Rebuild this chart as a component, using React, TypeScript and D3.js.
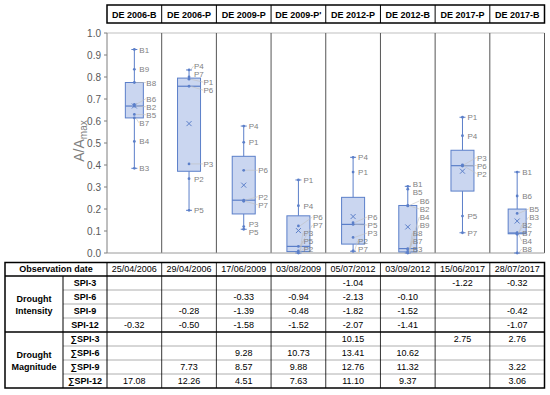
import * as d3 from 'd3'

// box plot categories (header row)
const categories = ['DE 2006-B', 'DE 2006-P', 'DE 2009-P', "DE 2009-P'", 'DE 2012-P', 'DE 2012-B', 'DE 2017-P', 'DE 2017-B']

// A/Amax per point, in label order (B1..B9 / P1..P7)
const de2006B = [0.925, 0.668, 0.385, 0.507, 0.63, 0.675, 0.614, 0.775, 0.835]
const de2006P = [0.79, 0.338, 0.405, 0.832, 0.194, 0.758, 0.8]
const de2009P = [0.503, 0.24, 0.12, 0.577, 0.108, 0.376, 0.235]
const de2009Pp = [0.332, 0.0, 0.01, 0.215, 0.003, 0.123, 0.03]
const de2012P = [0.368, 0.01, 0.071, 0.435, 0.13, 0.138, 0.008]
const de2012B = [0.303, 0.214, 0.0, 0.02, 0.29, 0.216, 0.002, 0.005, 0.015]
const de2017P = [0.617, 0.395, 0.401, 0.533, 0.168, 0.397, 0.092]
const de2017B = [0.368, 0.09, 0.092, 0.085, 0.18, 0.259, 0.088, 0.0]
const seriesValues = [de2006B, de2006P, de2009P, de2009Pp, de2012P, de2012B, de2017P, de2017B]

const yTicks = [0, 0.1, 0.2, 0.3, 0.4, 0.5, 0.6, 0.7, 0.8, 0.9, 1.0]

// table under the chart
const obsDates = ['25/04/2006', '29/04/2006', '17/06/2009', '03/08/2009', '05/07/2012', '03/09/2012', '15/06/2017', '28/07/2017']
const intensityRows = ['SPI-3', 'SPI-6', 'SPI-9', 'SPI-12']
const magnitudeRows = ['∑SPI-3', '∑SPI-6', '∑SPI-9', '∑SPI-12']
const spi3 = [null, null, null, null, '-1.04', null, '-1.22', '-0.32']
const spi6 = [null, null, '-0.33', '-0.94', '-2.13', '-0.10', null, null]
const spi9 = [null, '-0.28', '-1.39', '-0.48', '-1.82', '-1.52', null, '-0.42']
const spi12 = ['-0.32', '-0.50', '-1.58', '-1.52', '-2.07', '-1.41', null, '-1.07']
const sumSpi3 = [null, null, null, null, '10.15', null, '2.75', '2.76']
const sumSpi6 = [null, null, '9.28', '10.73', '13.41', '10.62', null, null]
const sumSpi9 = [null, '7.73', '8.57', '9.88', '12.76', '11.32', null, '3.22']
const sumSpi12 = ['17.08', '12.26', '4.51', '7.63', '11.10', '9.37', null, '3.06']
const tableRows = [spi3, spi6, spi9, spi12, sumSpi3, sumSpi6, sumSpi9, sumSpi12]

const FONT = 'Liberation Sans, Arial, sans-serif'
const BLUE = '#5b7fc9'

// push overlapping label positions apart, clusters stay centred on their points
function spread(targets: number[], gap: number, hi: number) {
  const order = d3.range(targets.length).sort((a, b) => targets[a] - targets[b])
  let groups: { idx: number[]; top: number }[] = []
  for (const i of order) {
    groups.push({ idx: [i], top: targets[i] })
    while (groups.length > 1) {
      const b = groups[groups.length - 1]
      const a = groups[groups.length - 2]
      if (a.top + a.idx.length * gap <= b.top) break
      const idx = a.idx.concat(b.idx)
      let top = d3.mean(idx, (k, j) => targets[k] - j * gap) as number
      top = Math.min(top, hi - (idx.length - 1) * gap)
      groups = groups.slice(0, -2)
      groups.push({ idx, top })
    }
  }
  const out = new Array(targets.length)
  groups.forEach(g => g.idx.forEach((k, j) => (out[k] = g.top + j * gap)))
  return out as number[]
}

export default function App() {
  const width = 550
  const height = 395
  const plotTop = 33
  const plotBottom = 253
  const left = 107
  const right = 544.5

  const x = d3.scaleBand(categories, [left, right])
  const y = d3.scaleLinear([0, 1], [plotBottom, plotTop])
  const bw = x.bandwidth()

  const tTop = 262.5
  const headH = 13.5
  const rowH = 14
  const rowY = (i: number) => tTop + headH + i * rowH
  const tBottom = rowY(8)

  return (
    <svg width={width} height={height} style={{ position: 'absolute', left: 0, top: 0, background: '#fff' }} fontFamily={FONT}>
      {/* header row */}
      <g>
        {categories.map(c => (
          <text key={c} x={(x(c) as number) + bw / 2} y={17.5} textAnchor="middle" fontSize={9} fontWeight="bold">{c}</text>
        ))}
        {categories.slice(1).map(c => (
          <line key={c} x1={x(c)} x2={x(c)} y1={5} y2={23} stroke="#000" />
        ))}
        <rect x={left} y={5} width={right - left} height={18} fill="none" stroke="#000" strokeWidth={1.5} />
      </g>

      {/* plot frame */}
      <line x1={left} x2={right} y1={plotTop} y2={plotTop} stroke="#bfbfbf" />
      {categories.slice(1).map(c => (
        <line key={c} x1={x(c)} x2={x(c)} y1={plotTop} y2={plotBottom} stroke="#555" />
      ))}
      <line x1={right} x2={right} y1={plotTop} y2={plotBottom} stroke="#555" />
      <line x1={left} x2={right} y1={plotBottom} y2={plotBottom} stroke="#9a9a9a" />
      <line x1={left} x2={left} y1={plotTop} y2={plotBottom} stroke="#7f7f7f" />
      {yTicks.map(t => (
        <g key={t}>
          <line x1={left - 3} x2={left} y1={y(t)} y2={y(t)} stroke="#7f7f7f" />
          <text x={left - 6} y={y(t) + 3.5} textAnchor="end" fontSize={10} fill="#595959">{d3.format('.1f')(t)}</text>
        </g>
      ))}
      <text transform="translate(84,141) rotate(-90)" textAnchor="middle" fontSize={14} fill="#7f7f7f">
        A/A<tspan fontSize={10} dy={3}>max</tspan>
      </text>

      {/* boxes */}
      {categories.map((c, ci) => {
        const vals = seriesValues[ci]
        const prefix = c.endsWith('B') ? 'B' : 'P'
        const sorted = vals.slice().sort(d3.ascending)
        const q1 = d3.quantile(sorted, 0.25) as number
        const med = d3.quantile(sorted, 0.5) as number
        const q3 = d3.quantile(sorted, 0.75) as number
        const mean = d3.mean(vals) as number
        const lo = d3.min(vals) as number
        const hi = d3.max(vals) as number
        const cx = (x(c) as number) + bw / 2
        const w = prefix === 'B' ? 18 : 23
        const bxR = cx + w / 2
        const inBox = vals.map(v => v > q1 + 0.004 && v < q3 - 0.004 || Math.abs(v - q3) < 0.004 && v !== hi)
        const labelY = spread(vals.map(v => y(v)), 8, plotBottom - 4)
        return (
          <g key={c}>
            <line x1={cx} x2={cx} y1={y(hi)} y2={y(q3)} stroke={BLUE} />
            <line x1={cx} x2={cx} y1={y(q1)} y2={y(lo)} stroke={BLUE} />
            <line x1={cx - 3} x2={cx + 3} y1={y(hi)} y2={y(hi)} stroke={BLUE} />
            <line x1={cx - 3} x2={cx + 3} y1={y(lo)} y2={y(lo)} stroke={BLUE} />
            <rect x={cx - w / 2} y={y(q3)} width={w} height={y(q1) - y(q3)} fill="#cad6f0" stroke={BLUE} />
            <line x1={cx - w / 2} x2={cx + w / 2} y1={y(med)} y2={y(med)} stroke={BLUE} strokeWidth={1.2} />
            <path d={`M${cx - 2.5},${y(mean) - 2.5}L${cx + 2.5},${y(mean) + 2.5}M${cx - 2.5},${y(mean) + 2.5}L${cx + 2.5},${y(mean) - 2.5}`} stroke={BLUE} />
            {vals.map((v, i) => (
              <circle key={i} cx={cx} cy={y(v)} r={1.4} fill={BLUE} />
            ))}
            {vals.map((v, i) => {
              const lx = inBox[i] ? bxR + 3 : cx + 5
              const ly = labelY[i]
              const lead = inBox[i] || Math.abs(ly - y(v)) > 3
              return (
                <g key={i}>
                  {lead && <line x1={cx + 1.5} y1={y(v)} x2={lx - 0.5} y2={ly} stroke="#bfbfbf" strokeWidth={0.6} />}
                  <text x={lx} y={ly + 3} fontSize={8} fill="#7f7f7f">{prefix + (i + 1)}</text>
                </g>
              )
            })}
          </g>
        )
      })}

      {/* table */}
      <g fontSize={9}>
        <text x={56} y={tTop + 9.7} textAnchor="middle" fontWeight="bold">Observation date</text>
        {obsDates.map((d, i) => (
          <text key={d} x={(x(categories[i]) as number) + bw / 2} y={tTop + 9.7} textAnchor="middle">{d}</text>
        ))}
        <text x={34} y={rowY(2) - 2} textAnchor="middle" fontWeight="bold">Drought</text>
        <text x={34} y={rowY(2) + 10} textAnchor="middle" fontWeight="bold">Intensity</text>
        <text x={34} y={rowY(6) - 2} textAnchor="middle" fontWeight="bold">Drought</text>
        <text x={34} y={rowY(6) + 10} textAnchor="middle" fontWeight="bold">Magnitude</text>
        {intensityRows.concat(magnitudeRows).map((r, ri) => (
          <g key={r}>
            <text x={85} y={rowY(ri) + 10} textAnchor="middle" fontWeight="bold">{r}</text>
            {tableRows[ri].map((v, ci) => v && (
              <text key={ci} x={(x(categories[ci]) as number) + bw / 2} y={rowY(ri) + 10} textAnchor="middle">{v}</text>
            ))}
          </g>
        ))}
        {[1, 2, 3, 5, 6, 7].map(i => (
          <line key={i} x1={63} x2={right} y1={rowY(i)} y2={rowY(i)} stroke="#9a9a9a" strokeWidth={0.8} />
        ))}
        <line x1={63} x2={63} y1={rowY(0)} y2={tBottom} stroke="#000" />
        <line x1={left} x2={left} y1={tTop} y2={tBottom} stroke="#000" />
        {categories.slice(1).map(c => (
          <line key={c} x1={x(c)} x2={x(c)} y1={tTop} y2={tBottom} stroke="#000" strokeWidth={0.8} />
        ))}
        <line x1={5} x2={right} y1={rowY(0)} y2={rowY(0)} stroke="#000" strokeWidth={1.5} />
        <line x1={5} x2={right} y1={rowY(4)} y2={rowY(4)} stroke="#000" strokeWidth={1.5} />
        <rect x={5} y={tTop} width={right - 5} height={tBottom - tTop} fill="none" stroke="#000" strokeWidth={1.5} />
      </g>
    </svg>
  )
}
